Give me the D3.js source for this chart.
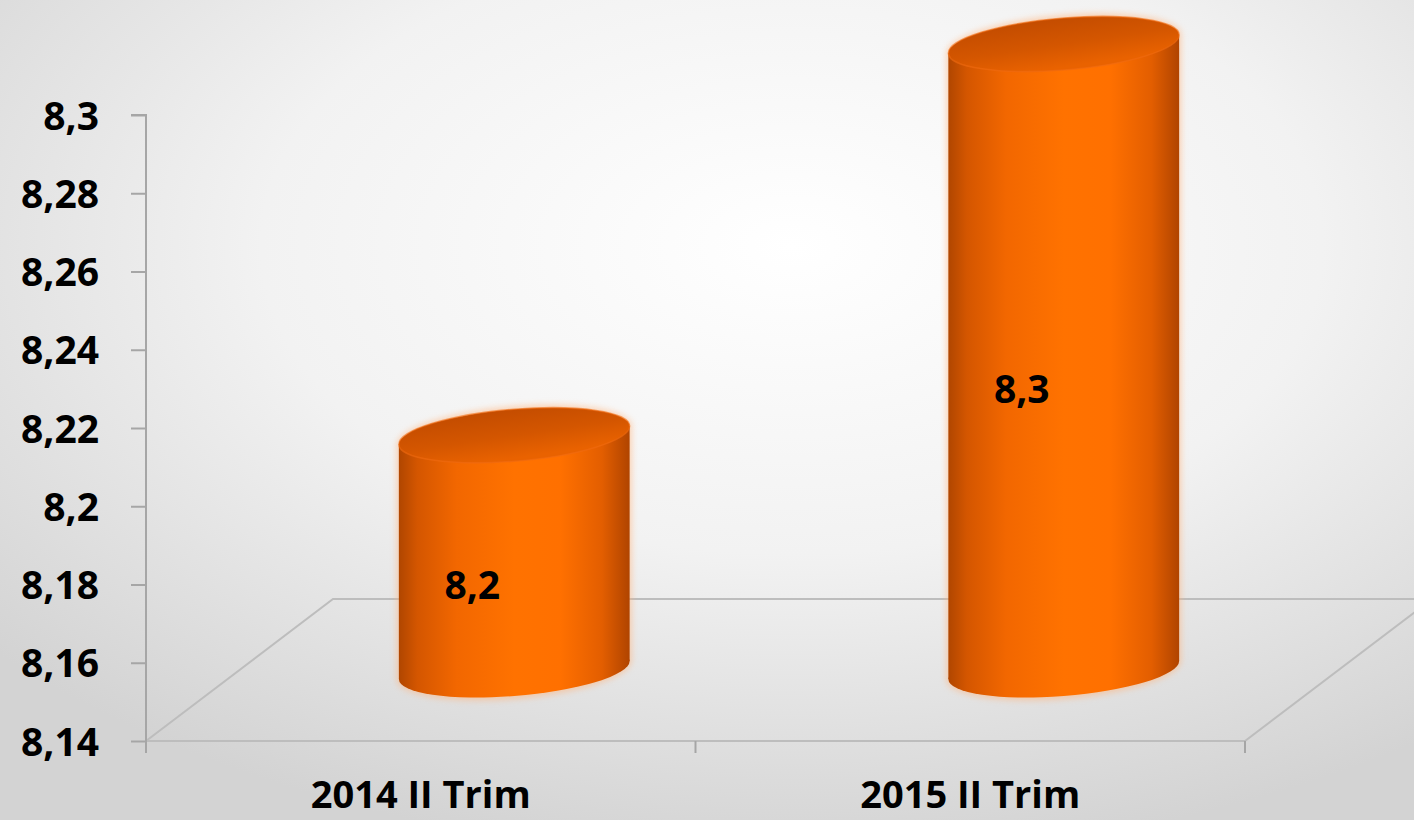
<!DOCTYPE html>
<html><head><meta charset="utf-8">
<script src="https://cdn.jsdelivr.net/npm/d3@7"></script>
<style>html,body{margin:0;padding:0;overflow:hidden;}svg{display:block;}</style>
</head><body>
<svg id="chart" width="1414" height="820"></svg>
<script>
const categories = ["2014 II Trim", "2015 II Trim"];
const values = [8.2, 8.3];
const valueLabels = ["8,2", "8,3"];
const yTicks = [8.14, 8.16, 8.18, 8.2, 8.22, 8.24, 8.26, 8.28, 8.3];
const yTickLabels = ["8,14", "8,16", "8,18", "8,2", "8,22", "8,24", "8,26", "8,28", "8,3"];

const W = 1414, H = 820;
const svg = d3.select("#chart");
const defs = svg.append("defs");

// background
const bg = defs.append("radialGradient").attr("id","bg").attr("cx","0.56").attr("cy","0.3").attr("r","0.75");
bg.append("stop").attr("offset","0").attr("stop-color","#ffffff");
bg.append("stop").attr("offset","0.5").attr("stop-color","#f2f2f2");
bg.append("stop").attr("offset","1").attr("stop-color","#d3d3d3");
svg.append("rect").attr("width",W).attr("height",H).attr("fill","url(#bg)");

const bodyGrad = defs.append("linearGradient").attr("id","bodyGrad").attr("x1","0").attr("x2","1").attr("y1","0").attr("y2","0");
[[0,"#b04600"],[0.08,"#d45600"],[0.25,"#f26700"],[0.5,"#ff7200"],[0.7,"#ff7000"],[0.88,"#e35e00"],[1,"#b04400"]]
  .forEach(([o,c])=>bodyGrad.append("stop").attr("offset",o).attr("stop-color",c));
const topGrad = defs.append("linearGradient").attr("id","topGrad").attr("x1","0").attr("x2","0.3").attr("y1","0").attr("y2","1");
[[0,"#c04a00"],[0.6,"#d45600"],[1,"#e96200"]]
  .forEach(([o,c])=>topGrad.append("stop").attr("offset",o).attr("stop-color",c));
const glow = defs.append("filter").attr("id","glow").attr("x","-20%").attr("y","-20%").attr("width","140%").attr("height","140%");
glow.append("feGaussianBlur").attr("stdDeviation",3);

const y = d3.scaleLinear().domain([8.14, 8.3]).range([741, 115]);
const x = d3.scaleBand().domain(categories).range([146, 1245]).padding(0);

const depthX = 187, depthY = -142;
const y0 = y.range()[0];

// floor
const floor = svg.append("g").attr("fill","none").attr("stroke","#bdbdbd").attr("stroke-width",2);
floor.append("path").attr("d",
  `M${x.range()[0]},${y0} L${x.range()[0]+depthX},${y0+depthY} L${x.range()[1]+depthX},${y0+depthY}`);
floor.append("path").attr("d",
  `M${x.range()[0]},${y0} L${x.range()[1]},${y0} L${x.range()[1]+depthX},${y0+depthY}`);

// y axis
const yAxis = d3.axisLeft(y).tickValues(yTicks).tickFormat((d,i)=>yTickLabels[i]).tickSize(15).tickPadding(32);
const ga = svg.append("g").attr("transform",`translate(${x.range()[0]},0)`).call(yAxis);
ga.select(".domain").attr("stroke","#a6a6a6").attr("stroke-width",2).attr("d",`M-15,${y(8.3)}H0V${y0+12}`);
ga.selectAll(".tick line").attr("stroke","#a6a6a6").attr("stroke-width",2);
ga.selectAll(".tick text").attr("fill","#000").style("font-family","'Open Sans', sans-serif")
  .style("font-weight","700").style("font-size","39px").attr("dy","0.36em");

// x axis ticks
const xt = svg.append("g").attr("stroke","#a6a6a6").attr("stroke-width",2);
[x.range()[0] + x.bandwidth(), x.range()[1]].forEach(px=>{
  xt.append("line").attr("x1",px).attr("x2",px).attr("y1",y0).attr("y2",y0+12);
});
svg.append("g").selectAll("text").data(categories).join("text")
  .attr("x",d=>x(d)+x.bandwidth()/2).attr("y",808).attr("text-anchor","middle")
  .style("font-family","'Open Sans', sans-serif").style("font-weight","700").style("font-size","38px")
  .attr("fill","#000").text(d=>d);

// cylinders
const rx = x.bandwidth()*0.21, ry = 26, skew = -4.5;
const gc = svg.append("g");
categories.forEach((c,i)=>{
  const cx = x(c) + x.bandwidth()/2 + depthX/2;
  const yb = y0 + depthY/2;
  const yt = y(values[i]) + depthY/2;
  const g = gc.append("g").attr("transform",`translate(${cx},0) skewY(${skew})`);
  const halo = g.append("g").attr("filter","url(#glow)").attr("opacity",0.55);
  halo.append("ellipse").attr("cx",0).attr("cy",yb).attr("rx",rx+2).attr("ry",ry+3).attr("fill","#ffb27a");
  halo.append("rect").attr("x",-rx-2).attr("y",yt).attr("width",2*rx+4).attr("height",yb-yt).attr("fill","#ffb27a");
  halo.append("ellipse").attr("cx",0).attr("cy",yt).attr("rx",rx+2).attr("ry",ry+3).attr("fill","#ffb27a");
  g.append("ellipse").attr("cx",0).attr("cy",yb).attr("rx",rx).attr("ry",ry).attr("fill","url(#bodyGrad)");
  g.append("rect").attr("x",-rx).attr("y",yt).attr("width",2*rx).attr("height",yb-yt).attr("fill","url(#bodyGrad)");
  g.append("ellipse").attr("cx",0).attr("cy",yt).attr("rx",rx).attr("ry",ry).attr("fill","url(#topGrad)")
    .attr("stroke","#f06a10").attr("stroke-width",1.5).attr("stroke-opacity",0.6);
  svg.append("text").attr("x",cx-42).attr("y",(yt+yb)/2+32).attr("dy","0.36em").attr("text-anchor","middle")
    .style("font-family","'Open Sans', sans-serif").style("font-weight","700").style("font-size","39px")
    .attr("fill","#000").text(valueLabels[i]);
});
</script>
</body></html>
